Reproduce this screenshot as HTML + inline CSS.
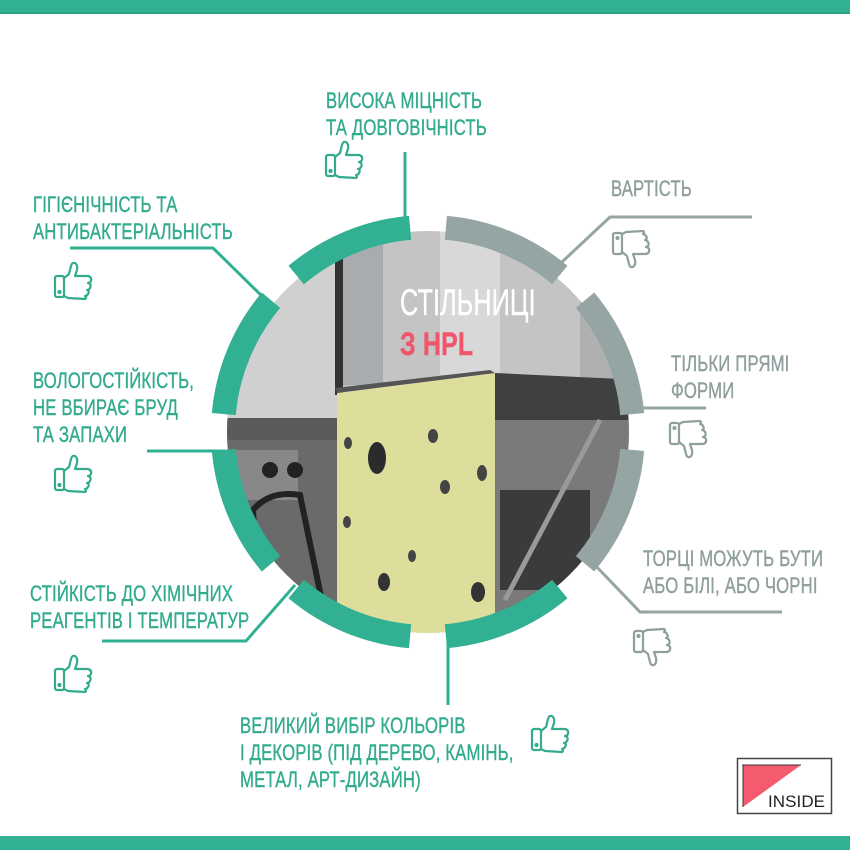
<!DOCTYPE html>
<html><head><meta charset="utf-8"><style>
html,body{margin:0;padding:0;background:#fff;}
body{width:850px;height:850px;position:relative;overflow:hidden;font-family:"Liberation Sans",sans-serif;}
.t{position:absolute;font-size:22px;line-height:27px;white-space:nowrap;transform:scaleX(.76);transform-origin:0 0;letter-spacing:0.2px;-webkit-text-stroke:0.4px currentColor}
.g{color:#33ab8e}.r{color:#8e9f9d}
svg{position:absolute;left:0;top:0}
</style></head><body>
<svg width="850" height="850" viewBox="0 0 850 850">
<defs>
<clipPath id="cc"><circle cx="428" cy="432" r="201"/></clipPath>
<g id="up" fill="none" stroke-width="2.2" stroke-linejoin="round" stroke-linecap="round">
<rect x="0" y="14" width="9" height="21" rx="2"/>
<circle cx="4.5" cy="30" r="1"/>
<path d="M9 16 L14 12 L16 4 Q17 0 20 1 Q23 3 22 8 L20 14 L33 14 Q37 15 36 19 Q35 21 33 21 Q37 22 35 26 Q34 28 32 28 Q35 29 33 32 Q32 34 30 34 Q32 36 30 37 L13 36 L9 34"/>
</g>
</defs>
<rect x="0" y="0" width="850" height="13" fill="#31b093"/>
<rect x="0" y="12" width="850" height="2" fill="#29a385"/>
<rect x="0" y="836" width="850" height="14" fill="#31b093"/>
<g clip-path="url(#cc)">
<rect x="220" y="220" width="420" height="430" fill="#c4c4c4"/>
<rect x="220" y="220" width="120" height="430" fill="#d0d0d0"/>
<rect x="335" y="225" width="8" height="170" fill="#333"/>
<rect x="343" y="225" width="40" height="160" fill="#a9acae"/>
<rect x="440" y="225" width="60" height="150" fill="#d8d8d8"/>
<rect x="580" y="225" width="60" height="200" fill="#b0b0b0"/>
<polygon points="220,418 337,418 337,440 220,440" fill="#5a5a58"/>
<polygon points="495,373 640,380 640,420 495,420" fill="#3e413f"/>
<rect x="220" y="440" width="117" height="210" fill="#6a6a6a"/>
<rect x="228" y="450" width="70" height="50" fill="#888"/>
<circle cx="270" cy="470" r="8" fill="#222"/><circle cx="295" cy="470" r="8" fill="#222"/>
<rect x="495" y="420" width="145" height="230" fill="#7a7a7a"/>
<rect x="500" y="490" width="90" height="100" fill="#3b3b3b"/>
<path d="M253 510 Q270 490 300 495 L330 640 L260 640 Z" fill="none" stroke="#222" stroke-width="6"/>
<line x1="505" y1="600" x2="600" y2="420" stroke="#9a9a9a" stroke-width="5"/>
<polygon points="337,393 495,373 495,650 337,650" fill="#dede9c"/>
<polygon points="337,393 495,373 490,370 335,388" fill="#555"/>
<ellipse cx="377" cy="458" rx="9" ry="16" fill="#2b2b2b"/>
<ellipse cx="348" cy="443" rx="4" ry="6" fill="#444"/>
<ellipse cx="433" cy="436" rx="5" ry="7" fill="#444"/>
<ellipse cx="482" cy="473" rx="5" ry="8" fill="#444"/>
<ellipse cx="445" cy="487" rx="5" ry="7" fill="#444"/>
<ellipse cx="347" cy="522" rx="4" ry="6" fill="#444"/>
<ellipse cx="412" cy="556" rx="4" ry="6" fill="#444"/>
<ellipse cx="384" cy="582" rx="6" ry="9" fill="#333"/>
<ellipse cx="478" cy="592" rx="7" ry="10" fill="#333"/>
</g>
<g fill="none" stroke-width="24">
<path d="M632.2 449.9 A205 205 0 0 1 585 563.8" stroke="#94a5a3"/>
<path d="M559.8 589 A205 205 0 0 1 445.9 636.2" stroke="#31b093"/>
<path d="M410.1 636.2 A205 205 0 0 1 296.2 589" stroke="#31b093"/>
<path d="M271 563.8 A205 205 0 0 1 223.8 449.9" stroke="#31b093"/>
<path d="M223.8 414.1 A205 205 0 0 1 271 300.2" stroke="#31b093"/>
<path d="M296.2 275 A205 205 0 0 1 410.1 227.8" stroke="#31b093"/>
<path d="M445.9 227.8 A205 205 0 0 1 559.8 275" stroke="#94a5a3"/>
<path d="M585 300.2 A205 205 0 0 1 632.2 414.1" stroke="#94a5a3"/>
</g>
<g fill="none" stroke-width="3">
<polyline points="405,152 405,220" stroke="#31b093"/>
<polyline points="70,248 213,248 268,302" stroke="#31b093"/>
<polyline points="147,451 225,451" stroke="#31b093"/>
<polyline points="102,641 246,641 295,585" stroke="#31b093"/>
<polyline points="448,640 448,705" stroke="#31b093"/>
<polyline points="752,217 610,217 562,262" stroke="#94a5a3"/>
<polyline points="640,408 706,408" stroke="#94a5a3"/>
<polyline points="592,562 640,612 782,612" stroke="#94a5a3"/>
</g>
<g stroke="#33ab8e">
<use href="#up" transform="translate(326,141)"/>
<use href="#up" transform="translate(55,262)"/>
<use href="#up" transform="translate(55,455)"/>
<use href="#up" transform="translate(55,655)"/>
<use href="#up" transform="translate(532,715)"/>
</g>
<g stroke="#8e9f9d">
<use href="#up" transform="translate(613,268) scale(1,-1)"/>
<use href="#up" transform="translate(670,458) scale(1,-1)"/>
<use href="#up" transform="translate(634,666) scale(1,-1)"/>
</g>
<rect x="737.5" y="758.5" width="94" height="55" fill="#fff" stroke="#444" stroke-width="1.5"/>
<polygon points="743,765 801,765 743,807" fill="#f55b6e"/>
<line x1="742" y1="765" x2="801" y2="765" stroke="#333" stroke-width="1"/>
<line x1="743" y1="765" x2="743" y2="807" stroke="#333" stroke-width="1"/>
<text x="768" y="807" font-family="Liberation Sans,sans-serif" font-size="17" fill="#222" textLength="57">INSIDE</text>
</svg>
<div class="t" style="left:400px;top:283px;font-size:37px;line-height:40px;color:#fff;transform:scaleX(.68)">СТІЛЬНИЦІ</div>
<div class="t" style="left:400px;top:326px;font-size:32px;line-height:36px;color:#f0566b;font-weight:bold;transform:scaleX(.78)">З HPL</div>
<div class="t g" style="left:326px;top:87px">ВИСОКА МІЦНІСТЬ<br>ТА ДОВГОВІЧНІСТЬ</div>
<div class="t g" style="left:33px;top:191px">ГІГІЄНІЧНІСТЬ ТА<br>АНТИБАКТЕРІАЛЬНІСТЬ</div>
<div class="t g" style="left:33px;top:367px">ВОЛОГОСТІЙКІСТЬ,<br>НЕ ВБИРАЄ БРУД<br>ТА ЗАПАХИ</div>
<div class="t g" style="left:30px;top:580px">СТІЙКІСТЬ ДО ХІМІЧНИХ<br>РЕАГЕНТІВ І ТЕМПЕРАТУР</div>
<div class="t g" style="left:240px;top:712px">ВЕЛИКИЙ ВИБІР КОЛЬОРІВ<br>І ДЕКОРІВ (ПІД ДЕРЕВО, КАМІНЬ,<br>МЕТАЛ, АРТ-ДИЗАЙН)</div>
<div class="t r" style="left:611px;top:175px">ВАРТІСТЬ</div>
<div class="t r" style="left:671px;top:350px">ТІЛЬКИ ПРЯМІ<br>ФОРМИ</div>
<div class="t r" style="left:643px;top:545px">ТОРЦІ МОЖУТЬ БУТИ<br>АБО БІЛІ, АБО ЧОРНІ</div>
</body></html>
